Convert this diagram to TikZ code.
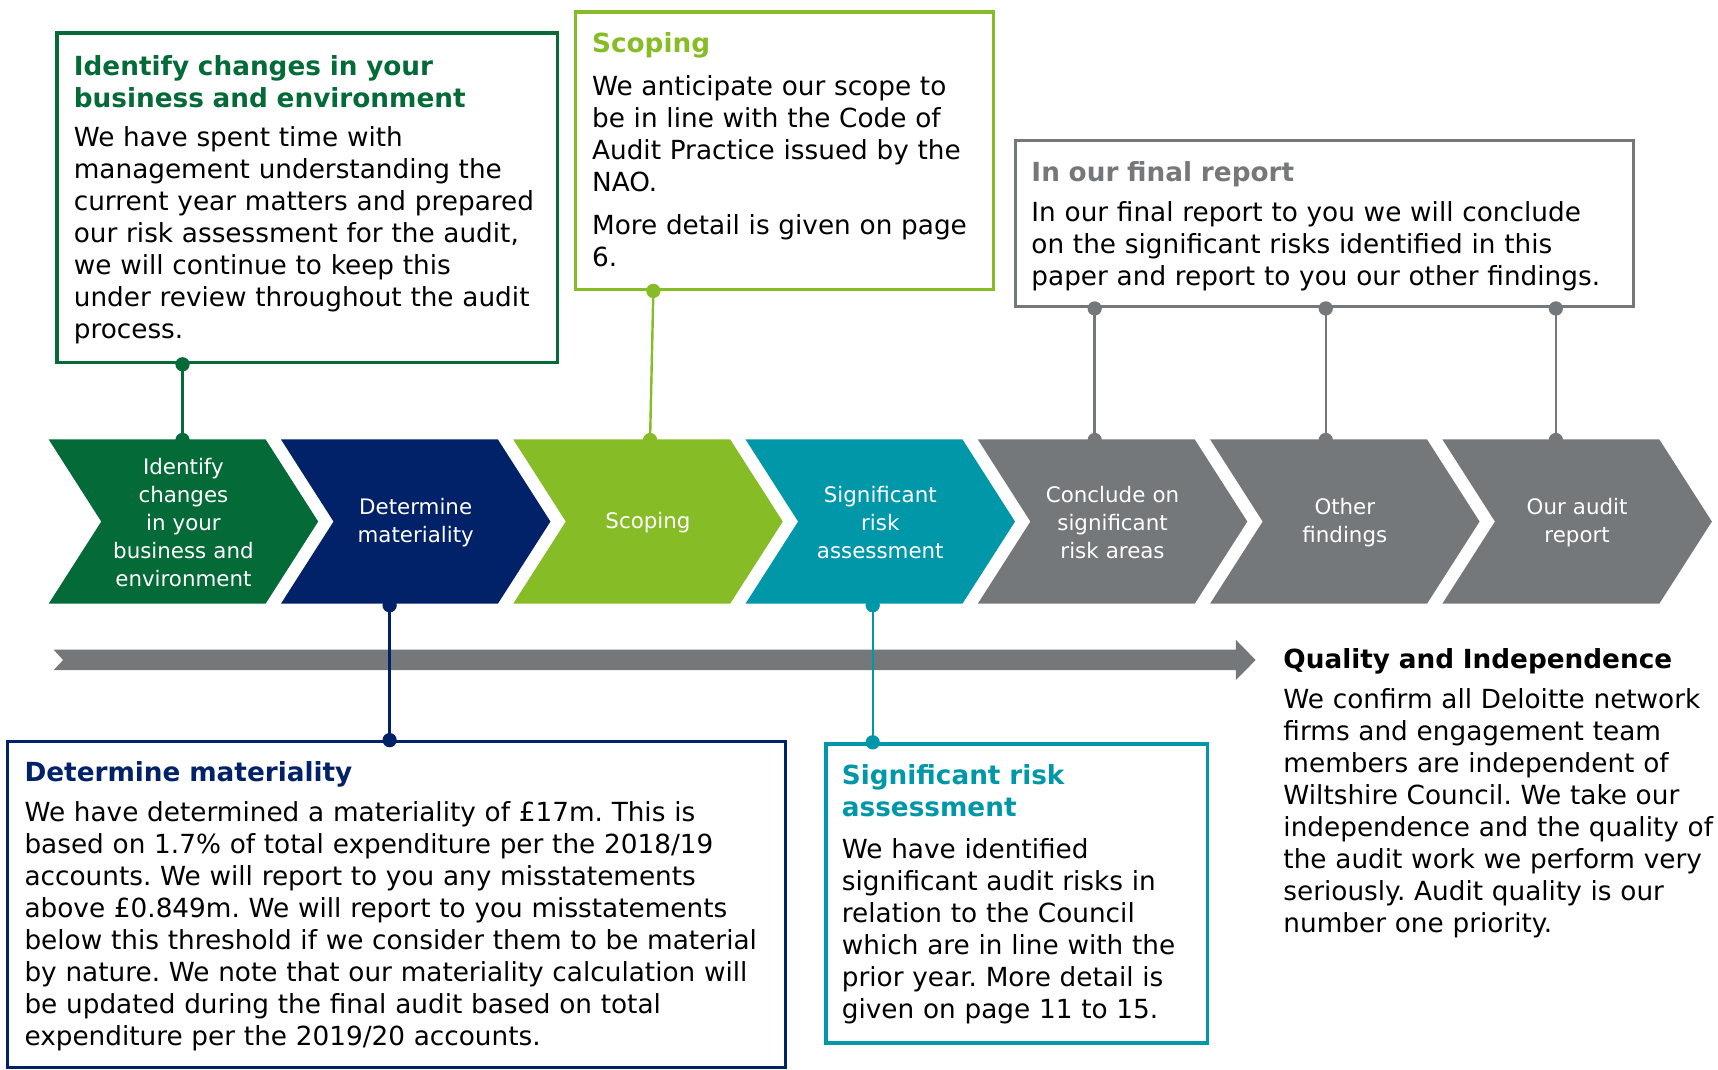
\documentclass[tikz,border=0pt]{standalone}
\usepackage{fontspec}
\setmainfont{DejaVu Sans}
\usepackage{tikz}
\usetikzlibrary{arrows.meta,fit}
\frenchspacing
\definecolor{dkgreen}{HTML}{046A38}
\definecolor{navy}{HTML}{012169}
\definecolor{lime}{HTML}{86BC25}
\definecolor{riskteal}{HTML}{0097A9}
\definecolor{slate}{HTML}{75787B}
\tikzset{%
    >={Circle[length=6.5pt]},
    frame/.style={draw=#1, line width=1.5pt, inner sep=0pt},
    blurb/.style={anchor=base west, inner sep=0pt, text width=#1, align=left,
        font=\fontsize{12}{14.6}\selectfont},
    chevtext/.style={text=white, text width=110pt, align=center, inner sep=0pt,
        minimum width=123pt, minimum height=75pt,
        font=\fontsize{9.75}{12.8}\selectfont},
    pin/.style={draw=#1, line width=1.1pt, <->, shorten <=-3.25pt, shorten >=-3.25pt}
}
\newcommand{\boxtitle}[3][3.6pt]{{\color{#2}\bfseries #3}\\[#1]}

\begin{document}
\begin{tikzpicture}[x=0.5pt, y=-0.5pt]
  \useasboundingbox (0,0) rectangle (1568,976);

  % the seven stages
  \foreach \col/\txt [count=\i] in {
      dkgreen/{Identify\\changes\\in your\\business and\\environment},
      navy/{Determine\\materiality},
      lime/{Scoping},
      riskteal/{Significant\\risk\\assessment},
      slate/{Conclude on\\significant\\risk areas},
      slate/{Other\\findings},
      slate/{Our audit\\report}} {
    \pgfmathsetmacro{\L}{44.4+212*(\i-1)}
    \fill[\col] (\L,401) -- ++(198,0) -- ++(48,75) -- ++(-48,75) -- ++(-198,0) -- ++(48,-75) -- cycle;
    \node[chevtext] (chev\i) at (\L+123,477) {\txt};
  }

  % timeline
  \fill[slate] (49,593) -- (1128,593) -- (1128,584) -- (1146,602.4) -- (1128,620.6)
    -- (1128,611.5) -- (49,611.5) -- (57.6,602.4) -- cycle;

  \node[frame=dkgreen, fit={(52,30) (509,331)}] (idbox) {};
  \node[blurb=225pt] (idtext) at (67,68.5) {\boxtitle{dkgreen}{Identify changes in your\\business and environment}We have spent time with\\management understanding the\\current year matters and prepared\\our risk assessment for the audit,\\we will continue to keep this\\under review throughout the audit\\process.};

  \node[frame=lime, fit={(525,11) (907,264)}] (scopebox) {};
  \node[blurb=190pt] (scopetext) at (540,48) {\boxtitle[4.8pt]{lime}{Scoping}We anticipate our scope to\\be in line with the Code of\\Audit Practice issued by the\\NAO.\\[5pt]More detail is given on page\\6.};

  \node[frame=slate, fit={(927,128) (1491,280)}] (finalbox) {};
  \node[blurb=280pt] (finaltext) at (941,166) {\boxtitle{slate}{In our final report}In our final report to you we will conclude\\on the significant risks identified in this\\paper and report to you our other findings.};

  \node[frame=navy, fit={(7,677) (717,974)}] (matbox) {};
  \node[blurb=350pt] (mattext) at (22,713.4) {\boxtitle{navy}{Determine materiality}We have determined a materiality of £17m. This is\\based on 1.7\% of total expenditure per the 2018/19\\accounts. We will report to you any misstatements\\above £0.849m. We will report to you misstatements\\below this threshold if we consider them to be material\\by nature. We note that our materiality calculation will\\be updated during the final audit based on total\\expenditure per the 2019/20 accounts.};

  \node[frame=riskteal, fit={(754,679) (1102,952)}] (riskbox) {};
  \node[blurb=170pt] (risktext) at (768,716.4) {\boxtitle[4.4pt]{riskteal}{Significant risk\\assessment}We have identified\\significant audit risks in\\relation to the Council\\which are in line with the\\prior year. More detail is\\given on page 11 to 15.};

  \node[blurb=205pt] (qualtext) at (1171,610) {\boxtitle{black}{Quality and Independence}We confirm all Deloitte network\\firms and engagement team\\members are independent of\\Wiltshire Council. We take our\\independence and the quality of\\the audit work we perform very\\seriously. Audit quality is our\\number one priority.};

  % pins between the boxes and the stages
  \coordinate (pin1) at (166.6,0);
  \coordinate (pin2) at (355.6,0);
  \coordinate (pin3a) at (596.3,0);
  \coordinate (pin3b) at (593.3,0);
  \coordinate (pin4) at (796.5,0);
  \coordinate (pin5) at (999.1,0);
  \coordinate (pin6) at (1210,0);
  \coordinate (pin7) at (1420,0);

  \draw[pin=dkgreen] (pin1 |- idbox.south) -- (pin1 |- chev1.north);
  \draw[pin=lime] (pin3a |- scopebox.south) -- (pin3b |- chev3.north);
  \draw[pin=navy] (pin2 |- chev2.south) -- (pin2 |- matbox.north);
  \draw[pin=riskteal] (pin4 |- chev4.south) -- (pin4 |- riskbox.north);
  \foreach \i in {5,6,7}
    \draw[pin=slate] (pin\i |- finalbox.south) -- (pin\i |- chev\i.north);
\end{tikzpicture}
\end{document}
